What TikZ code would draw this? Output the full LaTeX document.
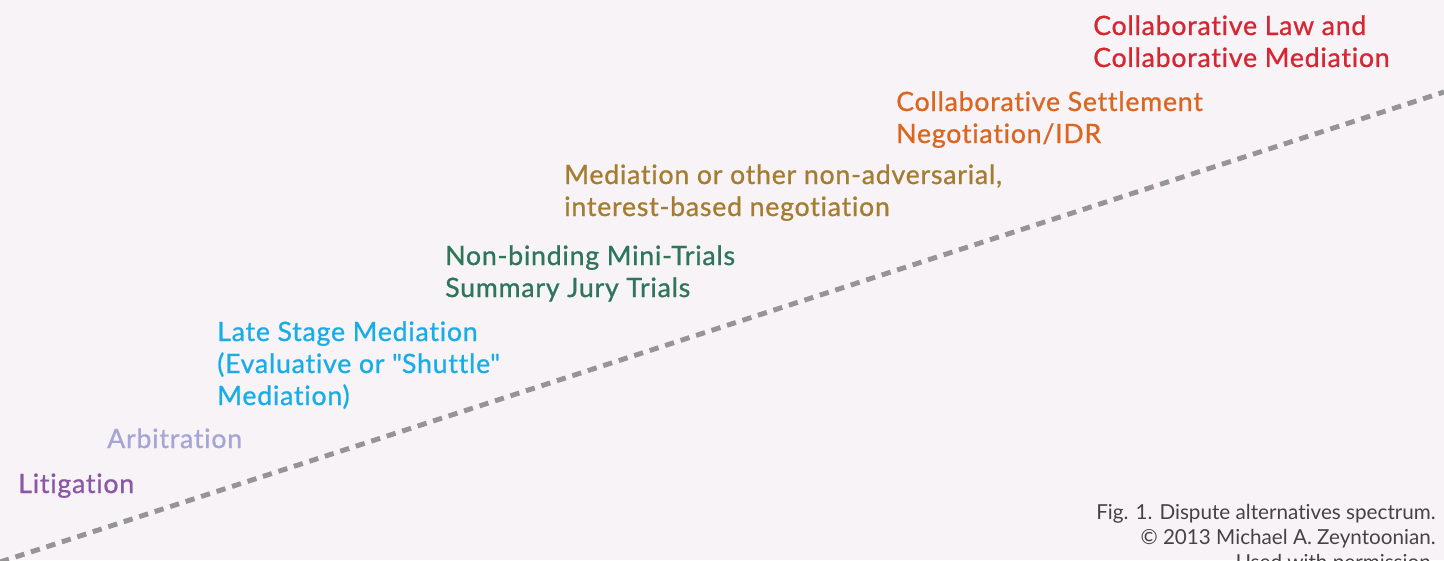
\documentclass[tikz,border=0pt]{standalone}
\usepackage{fontspec}
\setmainfont{Lato}[Ligatures=NoCommon]
\newfontfamily\lblfont{Lato}[FakeBold=0.9, LetterSpace=2.9, Ligatures=NoCommon]
\definecolor{bgc}{HTML}{F8F3F7}
\definecolor{cRed}{HTML}{D62631}
\definecolor{cOrange}{HTML}{DA6620}
\definecolor{cGold}{HTML}{A57D30}
\definecolor{cGreen}{HTML}{2E765A}
\definecolor{cCyan}{HTML}{19ADE8}
\definecolor{cLav}{HTML}{A6A6D6}
\definecolor{cPurple}{HTML}{8A58A6}
\definecolor{cCap}{HTML}{444444}
\definecolor{cDash}{HTML}{959595}
\tikzset{
  lbl/.style={anchor=base west, align=left, inner sep=0pt, font=\lblfont\fontsize{20}{24}\selectfont},
  captext/.style={anchor=base east, align=right, inner sep=0pt, text=cCap, font=\fontsize{15.5}{18.4}\selectfont},
  spectrum/.style={draw=cDash, line width=3.7pt, dash pattern=on 7pt off 5.2pt}
}
\begin{document}
\begin{tikzpicture}[x=0.75pt, y=-0.75pt]
\fill[bgc] (0,0) rectangle (1444,560);
\useasboundingbox (0,0) rectangle (1444,560);
\clip (0,0) rectangle (1444,560);
\coordinate (s) at (0,562);
\coordinate (e) at (1444,92);
\draw[spectrum] (s) -- (e);
\node[lbl, text=cRed] (law) at (1093,67) {Collaborative Law and\\Collaborative Mediation};
\node[lbl, text=cOrange] (csn) at (896,143) {Collaborative Settlement\\Negotiation/IDR};
\node[lbl, text=cGold] (med) at (564,216) {Mediation or other non-adversarial,\\interest-based negotiation};
\node[lbl, text=cGreen] (mini) at (445,297) {Non-binding Mini-Trials\\Summary Jury Trials};
\node[lbl, text=cCyan] (late) at (217,405) {Late Stage Mediation\\(Evaluative or \textquotedbl Shuttle\textquotedbl\\Mediation)};
\node[lbl, text=cLav] (arb) at (107,448) {Arbitration};
\node[lbl, text=cPurple] (lit) at (18,493) {Litigation};
\node[captext] (fig) at (1436,569) {Fig. 1. Dispute alternatives spectrum.\\© 2013 Michael A. Zeyntoonian.\\Used with permission.};
\end{tikzpicture}
\end{document}
